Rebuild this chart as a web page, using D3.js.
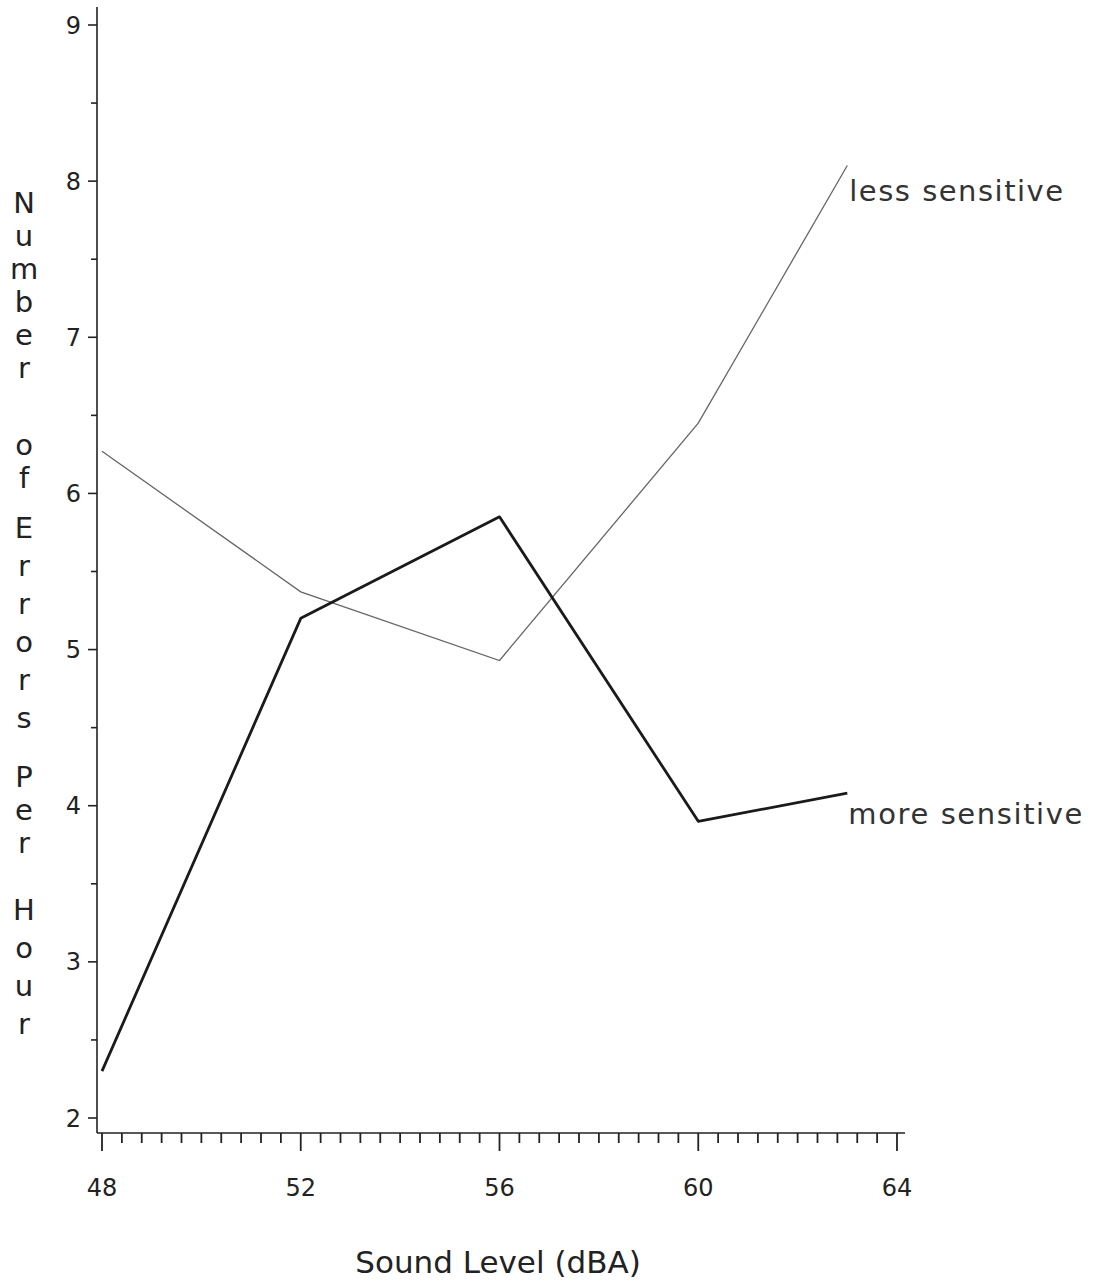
<!DOCTYPE html>
<html><head><meta charset="utf-8">
<script src="https://cdn.jsdelivr.net/npm/d3@7"></script>
<style>html,body{margin:0;padding:0;background:#fff;}svg{display:block;}</style>
</head><body>
<script>
const soundLevels = [48, 52, 56, 60, 63];
const moreSensitive = [2.3, 5.2, 5.85, 3.9, 4.08];
const lessSensitive = [6.27, 5.37, 4.93, 6.45, 8.1];
const seriesNames = ["more sensitive", "less sensitive"];
const xTickLabels = [48, 52, 56, 60, 64];
const yTickLabels = [2, 3, 4, 5, 6, 7, 8, 9];
const yTitleWords = ["Number", "of", "Errors", "Per", "Hour"];
const xTitle = "Sound Level (dBA)";

const W = 1094, H = 1285;
const svg = d3.select("body").append("svg").attr("width", W).attr("height", H);
const x = d3.scaleLinear().domain([48, 64]).range([102, 897]);
const y = d3.scaleLinear().domain([2, 9]).range([1118, 25]);
const axisX0 = 97, axisY0 = 1133;
const font = "DejaVu Sans, sans-serif";

// Y axis
svg.append("line").attr("x1", axisX0).attr("x2", axisX0).attr("y1", 7).attr("y2", axisY0)
  .attr("stroke", "#222").attr("stroke-width", 1.6);
d3.range(2, 9.01, 0.5).forEach(v => {
  const major = Math.abs(v - Math.round(v)) < 1e-6;
  svg.append("line").attr("x1", axisX0 - (major ? 9 : 6)).attr("x2", axisX0)
    .attr("y1", y(v)).attr("y2", y(v)).attr("stroke", "#222").attr("stroke-width", 1.6);
});
yTickLabels.forEach(v => {
  svg.append("text").attr("x", 81).attr("y", y(v)).attr("dy", "0.36em")
    .attr("text-anchor", "end").attr("font-family", font).attr("font-size", 24)
    .attr("fill", "#222").text(v);
});

// X axis
svg.append("line").attr("x1", axisX0).attr("x2", 905).attr("y1", axisY0).attr("y2", axisY0)
  .attr("stroke", "#222").attr("stroke-width", 1.6);
d3.range(0, 41).forEach(i => {
  const v = 48 + i * 0.4;
  const major = i % 10 === 0;
  svg.append("line").attr("x1", x(v)).attr("x2", x(v)).attr("y1", axisY0)
    .attr("y2", axisY0 + (major ? 18 : 10)).attr("stroke", "#222").attr("stroke-width", 1.8);
});
xTickLabels.forEach(v => {
  svg.append("text").attr("x", x(v)).attr("y", 1196).attr("text-anchor", "middle")
    .attr("font-family", font).attr("font-size", 24).attr("fill", "#222").text(v);
});

// Lines
const line = d3.line().x(d => x(d[0])).y(d => y(d[1]));
const lessData = soundLevels.map((s, i) => [s, lessSensitive[i]]);
const moreData = soundLevels.map((s, i) => [s, moreSensitive[i]]);
svg.append("path").datum(lessData).attr("d", line).attr("fill", "none")
  .attr("stroke", "#666").attr("stroke-width", 1.3);
svg.append("path").datum(moreData).attr("d", line).attr("fill", "none")
  .attr("stroke", "#1a1a1a").attr("stroke-width", 2.8).attr("stroke-linejoin", "round");

// Series labels
const lastLess = lessData[lessData.length - 1], lastMore = moreData[moreData.length - 1];
svg.append("text").attr("x", x(lastLess[0]) + 2).attr("y", y(lastLess[1]) + 35)
  .attr("font-family", font).attr("font-size", 29).attr("fill", "#333")
  .attr("letter-spacing", "1.5px").text(seriesNames[1]);
svg.append("text").attr("x", x(lastMore[0]) + 1).attr("y", y(lastMore[1]) + 31)
  .attr("font-family", font).attr("font-size", 29).attr("fill", "#333")
  .attr("letter-spacing", "1.6px").text(seriesNames[0]);

// Y title (stacked letters)
const wordStarts = [203, 445, 528, 777, 910];
const wordSteps = [33, 33, 38, 33, 38];
yTitleWords.forEach((w, wi) => {
  w.split("").forEach((ch, ci) => {
    svg.append("text").attr("x", 24).attr("y", wordStarts[wi] + ci * wordSteps[wi]).attr("dy", "0.35em")
      .attr("text-anchor", "middle").attr("font-family", font).attr("font-size", 29)
      .attr("fill", "#222").text(ch);
  });
});

// X title
svg.append("text").attr("x", 498).attr("y", 1273).attr("text-anchor", "middle")
  .attr("font-family", font).attr("font-size", 31).attr("fill", "#222").text(xTitle);
</script>
</body></html>
